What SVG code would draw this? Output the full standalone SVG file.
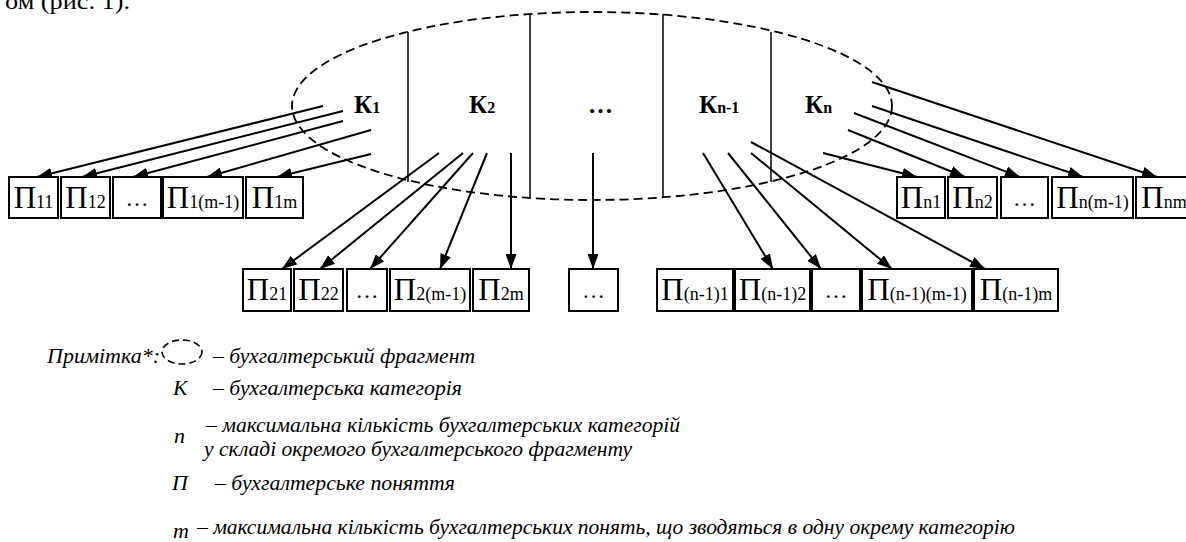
<svg xmlns="http://www.w3.org/2000/svg" width="1186" height="542" viewBox="0 0 1186 542">
<defs>
<style>
.box{fill:#fff;stroke:#000;stroke-width:2}
.pl{font-family:"Liberation Serif","Times New Roman",serif;font-size:31px;text-anchor:middle;fill:#000}
.sub{font-size:18px}
.dots{font-family:"Liberation Serif","Times New Roman",serif;font-size:23px;text-anchor:middle;fill:#000}
.k{font-family:"Liberation Serif","Times New Roman",serif;font-weight:bold;font-size:25px;fill:#000}
.ks{font-size:16px}
.arr{stroke:#000;stroke-width:2;fill:none;marker-end:url(#ah)}
.div{stroke:#000;stroke-width:1.5;fill:none}
.frag{fill:none;stroke:#000;stroke-width:1.8;stroke-dasharray:9 5}
.leg{font-family:"Liberation Serif","Times New Roman","DejaVu Serif",serif;font-style:italic;font-size:22px;fill:#000}
.top{font-family:"Liberation Serif","Times New Roman",serif;font-size:24px;fill:#000}
</style>
<marker id="ah" viewBox="0 0 15 11" refX="15" refY="5.5" markerWidth="15" markerHeight="11" markerUnits="userSpaceOnUse" orient="auto">
<path d="M0,0 L15,5.5 L0,11 Z" fill="#000"/>
</marker>
</defs>
<rect width="1186" height="542" fill="#fff"/>
<text class="top" x="5" y="8.5" textLength="125" lengthAdjust="spacingAndGlyphs">ом (рис. 1).</text>

<g id="fragment">
<ellipse class="frag" cx="592" cy="106" rx="300" ry="94"/>
<line class="div" x1="408" y1="32" x2="408" y2="182"/>
<line class="div" x1="530" y1="14" x2="530" y2="198"/>
<line class="div" x1="663" y1="14" x2="663" y2="198"/>
<line class="div" x1="771" y1="32" x2="771" y2="182"/>
</g>

<g id="k1"><text class="k" x="354" y="113">К<tspan class="ks">1</tspan></text></g>
<g id="k2"><text class="k" x="469" y="113">К<tspan class="ks">2</tspan></text></g>
<g id="kdots"><text class="k" x="588" y="113">…</text></g>
<g id="kn1"><text class="k" x="699" y="113">К<tspan class="ks">n-1</tspan></text></g>
<g id="kn"><text class="k" x="805" y="113">К<tspan class="ks">n</tspan></text></g>

<g id="connectors">
<line class="arr" x1="323" y1="106" x2="37" y2="177"/>
<line class="arr" x1="343" y1="111" x2="82" y2="177"/>
<line class="arr" x1="343" y1="121" x2="133" y2="177"/>
<line class="arr" x1="371" y1="130" x2="207" y2="177"/>
<line class="arr" x1="371" y1="154" x2="277" y2="177"/>

<line class="arr" x1="439" y1="153" x2="282" y2="269"/>
<line class="arr" x1="463" y1="153" x2="320" y2="269"/>
<line class="arr" x1="473" y1="153" x2="370" y2="269"/>
<line class="arr" x1="487" y1="153" x2="440" y2="269"/>
<line class="arr" x1="511" y1="153" x2="511" y2="269"/>

<line class="arr" x1="593" y1="153" x2="593" y2="269"/>

<line class="arr" x1="703" y1="153" x2="773" y2="269"/>
<line class="arr" x1="728" y1="153" x2="821" y2="269"/>
<line class="arr" x1="751" y1="153" x2="892" y2="269"/>
<line class="arr" x1="751" y1="142" x2="985" y2="269"/>

<line class="arr" x1="872" y1="82" x2="1157" y2="177"/>
<line class="arr" x1="872" y1="106" x2="1083" y2="177"/>
<line class="arr" x1="854" y1="113" x2="1020" y2="177"/>
<line class="arr" x1="848" y1="130" x2="965" y2="177"/>
<line class="arr" x1="823" y1="153" x2="917" y2="177"/>
</g>

<g id="p11"><rect class="box" x="9" y="177" width="49" height="41"/><text class="pl" x="33.5" y="208">П<tspan class="sub">11</tspan></text></g>
<g id="p12"><rect class="box" x="61" y="177" width="49" height="41"/><text class="pl" x="85.5" y="208">П<tspan class="sub">12</tspan></text></g>
<g id="p1dots"><rect class="box" x="113" y="177" width="48" height="41"/><text class="dots" x="137" y="206">…</text></g>
<g id="p1m1"><rect class="box" x="163" y="177" width="80" height="41"/><text class="pl" x="203" y="208">П<tspan class="sub">1(m-1)</tspan></text></g>
<g id="p1m"><rect class="box" x="246" y="177" width="57" height="41"/><text class="pl" x="274.5" y="208">П<tspan class="sub">1m</tspan></text></g>

<g id="pn1"><rect class="box" x="897" y="177" width="48" height="41"/><text class="pl" x="921" y="208">П<tspan class="sub">n1</tspan></text></g>
<g id="pn2"><rect class="box" x="948" y="177" width="49" height="41"/><text class="pl" x="972.5" y="208">П<tspan class="sub">n2</tspan></text></g>
<g id="pndots"><rect class="box" x="1001" y="177" width="47" height="41"/><text class="dots" x="1024.5" y="206">…</text></g>
<g id="pnm1"><rect class="box" x="1052" y="177" width="81" height="41"/><text class="pl" x="1092.5" y="208">П<tspan class="sub">n(m-1)</tspan></text></g>
<g id="pnm"><rect class="box" x="1136" y="177" width="52" height="41"/><text class="pl" x="1164" y="208">П<tspan class="sub">nm</tspan></text></g>

<g id="p21"><rect class="box" x="243" y="269" width="48" height="42"/><text class="pl" x="267" y="300">П<tspan class="sub">21</tspan></text></g>
<g id="p22"><rect class="box" x="294" y="269" width="49" height="42"/><text class="pl" x="318.5" y="300">П<tspan class="sub">22</tspan></text></g>
<g id="p2dots"><rect class="box" x="347" y="269" width="40" height="42"/><text class="dots" x="367" y="298">…</text></g>
<g id="p2m1"><rect class="box" x="390" y="269" width="80" height="42"/><text class="pl" x="430" y="300">П<tspan class="sub">2(m-1)</tspan></text></g>
<g id="p2m"><rect class="box" x="473" y="269" width="56" height="42"/><text class="pl" x="501" y="300">П<tspan class="sub">2m</tspan></text></g>

<g id="pdots"><rect class="box" x="569" y="269" width="49" height="42"/><text class="dots" x="593.5" y="298">…</text></g>

<g id="pn11"><rect class="box" x="657" y="269" width="76" height="42"/><text class="pl" x="695" y="300">П<tspan class="sub">(n-1)1</tspan></text></g>
<g id="pn12"><rect class="box" x="735" y="269" width="75" height="42"/><text class="pl" x="772.5" y="300">П<tspan class="sub">(n-1)2</tspan></text></g>
<g id="pn1dots"><rect class="box" x="812" y="269" width="48" height="42"/><text class="dots" x="836" y="298">…</text></g>
<g id="pn1m1"><rect class="box" x="862" y="269" width="110" height="42"/><text class="pl" x="917" y="300">П<tspan class="sub">(n-1)(m-1)</tspan></text></g>
<g id="pn1m"><rect class="box" x="974" y="269" width="84" height="42"/><text class="pl" x="1016" y="300">П<tspan class="sub">(n-1)m</tspan></text></g>

<g id="legend">
<text class="leg" x="47" y="363" textLength="113" lengthAdjust="spacingAndGlyphs">Примітка*:</text>
<ellipse class="frag" cx="182" cy="352" rx="20" ry="12" style="stroke-dasharray:7 4;stroke-width:1.6"/>
<text class="leg" x="213" y="363" textLength="262" lengthAdjust="spacingAndGlyphs">– бухгалтерський фрагмент</text>
<text class="leg" x="173" y="395">К</text>
<text class="leg" x="213" y="395" textLength="249" lengthAdjust="spacingAndGlyphs">– бухгалтерська категорія</text>
<text class="leg" x="174" y="443">n</text>
<text class="leg" x="206" y="432" textLength="474" lengthAdjust="spacingAndGlyphs">– максимальна кількість бухгалтерських категорій</text>
<text class="leg" x="204" y="456" textLength="428" lengthAdjust="spacingAndGlyphs">у складі окремого бухгалтерського фрагменту</text>
<text class="leg" x="172" y="490">П</text>
<text class="leg" x="215" y="490" textLength="240" lengthAdjust="spacingAndGlyphs">– бухгалтерське поняття</text>
<text class="leg" x="173" y="538">m</text>
<text class="leg" x="197" y="534" textLength="818" lengthAdjust="spacingAndGlyphs">– максимальна кількість бухгалтерських понять, що зводяться в одну окрему категорію</text>
</g>
</svg>
